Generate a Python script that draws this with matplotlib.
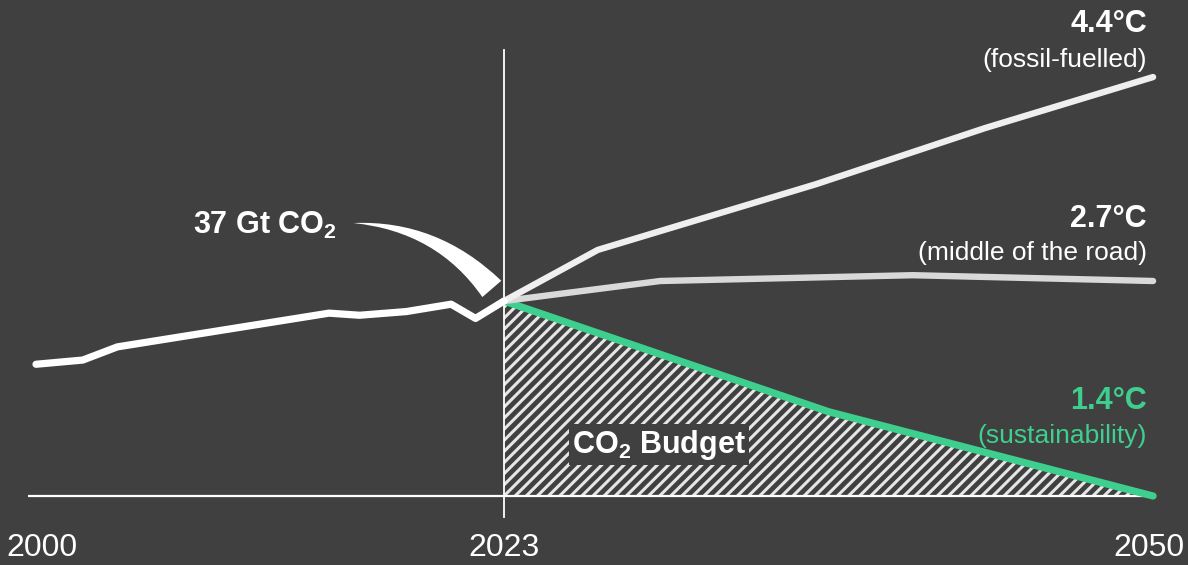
import numpy as np
import matplotlib
matplotlib.use("Agg")
import matplotlib.pyplot as plt
from matplotlib.patches import FancyArrowPatch
import matplotlib.transforms as mtransforms

# ---------------- data ----------------
hist_years = [2000, 2002.3, 2004.0, 2014.4, 2015.9, 2018.2, 2020.4, 2021.6, 2023]
hist_vals = [25.0, 25.8, 28.3, 34.7, 34.3, 35.0, 36.4, 33.7, 37.0]

fossil_years = [2023, 2026.9, 2036.0, 2043.0, 2050]
fossil_vals = [37.0, 46.7, 59.2, 69.8, 79.5]

middle_years = [2023, 2029.5, 2040.0, 2050]
middle_vals = [37.0, 40.8, 41.9, 40.8]

sustain_years = [2023, 2036.5, 2050]
sustain_vals = [37.0, 16.0, 0.0]

tick_years = [2000, 2023, 2050]
tick_labels = ["2000", "2023", "2050"]

scen_titles = ["4.4°C", "2.7°C", "1.4°C"]
scen_names = ["(fossil-fuelled)", "(middle of the road)", "(sustainability)"]

# ---------------- style ----------------
BG = "#404040"
GREEN = "#3ecf8e"
FOSSIL = "#efefef"
MIDDLE = "#d9d9d9"
HIST = "#ffffff"

plt.rcParams["font.family"] = ["Liberation Sans", "DejaVu Sans"]
plt.rcParams["mathtext.fontset"] = "custom"
plt.rcParams["mathtext.rm"] = "Liberation Sans"
plt.rcParams["mathtext.bf"] = "Liberation Sans:bold"
plt.rcParams["hatch.linewidth"] = 2.2

# piecewise-linear year scale: history 2000-2023 drawn narrower than 2023-2050
A = 1.0
B = 24.04 / 20.35


def fwd(x):
    x = np.asarray(x, dtype=float)
    return np.where(x <= 2023, (x - 2000) * A, 23 * A + (x - 2023) * B)


def inv(u):
    u = np.asarray(u, dtype=float)
    return np.where(u <= 23 * A, 2000 + u / A, 2023 + (u - 23 * A) / B)


fig = plt.figure(figsize=(11.88, 5.65), dpi=100, facecolor=BG)
ax = fig.add_axes([0, 0, 1, 1])
ax.set_facecolor(BG)
ax.set_xscale("function", functions=(fwd, inv))
ax.set_xlim(1998.231, 2051.453)
ax.set_ylim(-13.09, 94.12)
ax.axis("off")

# CO2 budget hatched area
ax.fill_between(sustain_years, sustain_vals, 0, facecolor="none",
                edgecolor="#e6e6e6", linewidth=0, hatch="///", zorder=1)

# 2023 divider and baseline
ax.axvline(2023, ymin=0.085, ymax=0.9115, color="white", lw=1.3, zorder=2)
ax.hlines(0, 1999.6, 2050, color="white", lw=1.6, zorder=2)

# scenario lines
ax.plot(sustain_years, sustain_vals, color=GREEN, lw=5.2,
        solid_capstyle="round", solid_joinstyle="round", zorder=3)
ax.plot(middle_years, middle_vals, color=MIDDLE, lw=4.6,
        solid_capstyle="round", solid_joinstyle="round", zorder=4)
ax.plot(fossil_years, fossil_vals, color=FOSSIL, lw=4.6,
        solid_capstyle="round", solid_joinstyle="round", zorder=5)
ax.plot(hist_years, hist_vals, color=HIST, lw=5.2,
        solid_capstyle="round", solid_joinstyle="round", zorder=6)

# year labels
xt = ax.get_xaxis_transform()
offsets = [6, 0, -4]
for yr, lab, off in zip(tick_years, tick_labels, offsets):
    tr = xt + mtransforms.ScaledTranslation(off / 100, 0, fig.dpi_scale_trans)
    ax.text(yr, 0.030, lab, transform=tr, ha="center", va="center",
            fontsize=23, color="white")

# scenario labels
title_y = [88.0, 51.0, 16.5]
name_y = [81.4, 44.8, 10.1]
colors = ["white", "white", GREEN]
for t, n, ty, ny, c in zip(scen_titles, scen_names, title_y, name_y, colors):
    ax.text(2049.75, ty, t, ha="right", va="baseline", fontsize=22,
            fontweight="bold", color=c)
    ax.text(2049.75, ny, n, ha="right", va="baseline", fontsize=19, color=c)

# 37 Gt CO2 callout
ax.text(2007.7, 49.7, r"37 Gt CO$_\mathbf{2}$", ha="left", va="baseline",
        fontsize=22, fontweight="bold", color="white", zorder=7)
arrow = FancyArrowPatch((2022.4, 39.3), (2015.6, 51.8),
                        arrowstyle="wedge,tail_width=0.9,shrink_factor=0.45",
                        connectionstyle="arc3,rad=0.22", mutation_scale=20,
                        facecolor="white", edgecolor="none",
                        shrinkA=0, shrinkB=0, zorder=7)
ax.add_patch(arrow)

# CO2 budget label
ax.text(2025.83, 8.2, r"CO$_\mathbf{2}$ Budget", ha="left", va="baseline",
        fontsize=22, fontweight="bold", color="white", zorder=8,
        bbox=dict(facecolor=BG, edgecolor="none", pad=2.5))

fig.savefig("out.png", dpi=100, facecolor=BG)
